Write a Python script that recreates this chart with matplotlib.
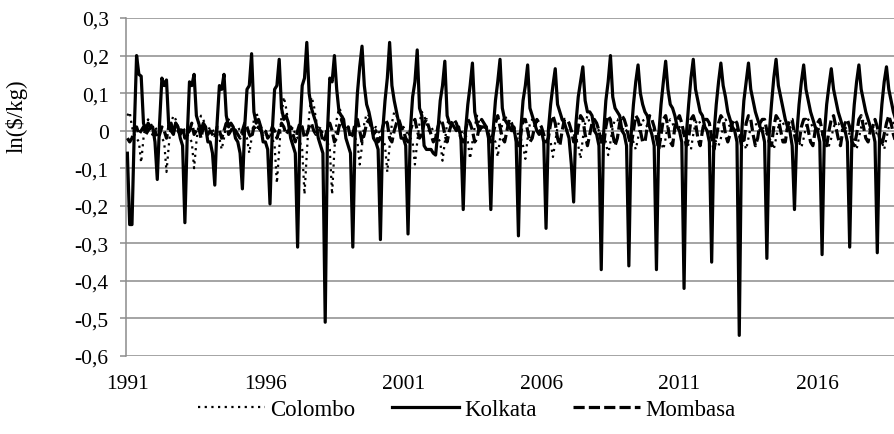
import matplotlib.pyplot as plt
from matplotlib.ticker import FuncFormatter
import numpy as np

# -------------------------------------------------------------
# Monthly data, Jan 1991 - Dec 2018, one row per year
# -------------------------------------------------------------
years = list(range(1991, 2019))
year_labels = ["1991", "1996", "2001", "2006", "2011", "2016"]
series_names = ["Colombo", "Kolkata", "Mombasa"]

colombo = [
    0.04, 0.05, 0.01, -0.01, -0.02, -0.03, -0.085, -0.02, 0.02, 0.03, 0.02, 0.01,   # 1991
    0.01, 0.00, -0.01, -0.02, -0.03, -0.11, -0.04, 0.02, 0.04, 0.03, 0.01, 0.00,    # 1992
    0.01, 0.00, -0.01, -0.02, -0.03, -0.10, -0.03, 0.02, 0.04, 0.03, 0.01, 0.00,    # 1993
    0.01, 0.00, 0.00, -0.01, -0.02, -0.05, -0.02, 0.02, 0.03, 0.02, 0.01, 0.00,     # 1994
    0.01, 0.00, -0.01, -0.01, -0.02, -0.06, -0.02, 0.03, 0.05, 0.03, 0.01, 0.00,    # 1995
    0.00, -0.01, -0.01, -0.02, -0.04, -0.14, -0.05, 0.04, 0.09, 0.06, 0.02, 0.00,   # 1996
    0.01, -0.01, -0.02, -0.03, -0.05, -0.17, -0.06, 0.04, 0.09, 0.07, 0.03, 0.00,   # 1997
    0.01, -0.01, -0.02, -0.03, -0.05, -0.17, -0.05, 0.03, 0.06, 0.05, 0.02, 0.00,   # 1998
    0.01, 0.00, -0.01, -0.02, -0.03, -0.09, -0.04, 0.02, 0.045, 0.04, 0.02, 0.00,   # 1999
    0.01, 0.00, -0.01, -0.02, -0.04, -0.11, -0.04, 0.02, 0.05, 0.04, 0.02, 0.00,    # 2000
    0.01, 0.00, -0.01, -0.02, -0.03, -0.09, -0.03, 0.02, 0.05, 0.04, 0.02, 0.00,    # 2001
    0.01, 0.00, -0.01, -0.02, -0.03, -0.08, -0.03, 0.02, 0.03, 0.02, 0.01, 0.00,    # 2002
    0.01, 0.00, -0.01, -0.01, -0.03, -0.075, -0.03, 0.01, 0.04, 0.02, 0.01, 0.00,   # 2003
    0.01, 0.00, 0.00, -0.02, -0.03, -0.07, -0.02, 0.02, 0.04, 0.03, 0.01, 0.00,     # 2004
    0.01, 0.00, -0.01, -0.02, -0.04, -0.075, -0.02, 0.02, 0.03, 0.02, 0.01, 0.00,   # 2005
    0.00, -0.01, -0.01, -0.02, -0.03, -0.07, -0.03, 0.01, 0.03, 0.03, 0.01, 0.00,   # 2006
    0.01, 0.00, -0.01, -0.02, -0.04, -0.075, -0.02, 0.02, 0.04, 0.02, 0.01, 0.00,   # 2007
    0.01, 0.00, -0.01, -0.02, -0.03, -0.065, -0.03, 0.01, 0.03, 0.03, 0.01, 0.00,   # 2008
    0.01, 0.00, -0.01, -0.02, -0.03, -0.05, -0.02, 0.01, 0.03, 0.02, 0.01, 0.00,    # 2009
    0.01, 0.00, 0.00, -0.01, -0.03, -0.05, -0.02, 0.02, 0.03, 0.02, 0.00, 0.00,     # 2010
    0.01, 0.00, -0.01, -0.02, -0.04, -0.05, -0.01, 0.02, 0.03, 0.02, 0.01, 0.00,    # 2011
    0.00, -0.01, -0.01, -0.02, -0.03, -0.04, -0.02, 0.01, 0.03, 0.02, 0.01, 0.00,   # 2012
    0.01, 0.00, -0.01, -0.02, -0.03, -0.05, -0.02, 0.01, 0.02, 0.02, 0.01, 0.00,    # 2013
    0.01, 0.00, -0.01, -0.02, -0.03, -0.05, -0.02, 0.01, 0.03, 0.02, 0.01, 0.00,    # 2014
    0.01, 0.00, 0.00, -0.02, -0.03, -0.045, -0.02, 0.01, 0.03, 0.02, 0.01, 0.00,    # 2015
    0.01, 0.00, -0.01, -0.02, -0.03, -0.04, -0.02, 0.01, 0.02, 0.02, 0.01, 0.00,    # 2016
    0.01, 0.00, -0.01, -0.02, -0.03, -0.05, -0.02, 0.01, 0.03, 0.02, 0.01, 0.00,    # 2017
    0.01, 0.00, -0.01, -0.02, -0.03, -0.05, -0.02, 0.01, 0.03, 0.02, 0.01, 0.00,    # 2018
]

kolkata = [
    -0.06, -0.25, -0.25, 0.00, 0.20, 0.15, 0.145, 0.02, 0.00, 0.02, 0.01, 0.01,     # 1991
    -0.03, -0.13, 0.02, 0.14, 0.12, 0.135, 0.01, 0.02, -0.01, 0.02, 0.01, -0.02,    # 1992
    -0.04, -0.245, -0.02, 0.13, 0.12, 0.15, 0.04, 0.02, 0.00, 0.02, 0.01, -0.03,    # 1993
    -0.03, -0.06, -0.145, 0.02, 0.12, 0.11, 0.15, 0.04, 0.01, 0.02, 0.01, -0.02,    # 1994
    -0.03, -0.06, -0.155, 0.01, 0.11, 0.12, 0.205, 0.05, 0.02, 0.03, 0.01, -0.03,   # 1995
    -0.03, -0.05, -0.195, 0.00, 0.11, 0.12, 0.19, 0.06, 0.03, 0.04, 0.02, -0.02,    # 1996
    -0.04, -0.06, -0.31, 0.00, 0.12, 0.14, 0.235, 0.10, 0.06, 0.04, 0.02, -0.02,    # 1997
    -0.04, -0.06, -0.51, 0.00, 0.14, 0.13, 0.20, 0.11, 0.05, 0.04, 0.03, -0.02,     # 1998
    -0.04, -0.06, -0.31, -0.01, 0.10, 0.17, 0.225, 0.12, 0.07, 0.05, 0.02, -0.02,   # 1999
    -0.03, -0.05, -0.29, 0.00, 0.08, 0.14, 0.235, 0.12, 0.08, 0.05, 0.02, -0.02,    # 2000
    -0.02, -0.04, -0.275, 0.00, 0.09, 0.13, 0.215, 0.06, 0.04, -0.04, -0.05, -0.05, # 2001
    -0.05, -0.06, -0.065, 0.00, 0.08, 0.12, 0.185, 0.04, 0.02, 0.02, 0.01, 0.00,    # 2002
    0.01, -0.02, -0.21, 0.00, 0.07, 0.12, 0.18, 0.05, 0.02, 0.00, 0.01, 0.01,       # 2003
    0.01, -0.02, -0.21, 0.00, 0.08, 0.13, 0.19, 0.06, 0.03, 0.02, 0.01, 0.00,       # 2004
    0.01, -0.03, -0.28, 0.00, 0.08, 0.12, 0.175, 0.06, 0.04, 0.02, 0.00, -0.01,     # 2005
    0.00, -0.03, -0.26, 0.00, 0.07, 0.12, 0.165, 0.07, 0.05, 0.03, 0.02, 0.00,      # 2006
    -0.02, -0.09, -0.19, 0.02, 0.09, 0.13, 0.17, 0.08, 0.05, 0.05, 0.04, 0.00,      # 2007
    -0.01, -0.04, -0.37, -0.01, 0.08, 0.13, 0.20, 0.09, 0.06, 0.05, 0.04, 0.00,     # 2008
    -0.01, -0.04, -0.36, -0.01, 0.07, 0.13, 0.175, 0.10, 0.07, 0.05, 0.04, 0.01,    # 2009
    -0.01, -0.04, -0.37, -0.01, 0.07, 0.13, 0.185, 0.11, 0.07, 0.06, 0.04, 0.01,    # 2010
    0.00, -0.03, -0.42, -0.01, 0.07, 0.14, 0.19, 0.11, 0.08, 0.05, 0.04, 0.01,      # 2011
    0.00, -0.03, -0.35, -0.01, 0.07, 0.13, 0.18, 0.12, 0.09, 0.05, 0.03, 0.01,      # 2012
    0.00, -0.03, -0.545, -0.01, 0.08, 0.13, 0.18, 0.11, 0.08, 0.05, 0.03, 0.01,     # 2013
    0.00, -0.03, -0.34, -0.01, 0.07, 0.14, 0.19, 0.12, 0.09, 0.06, 0.03, 0.01,      # 2014
    0.00, -0.04, -0.21, -0.01, 0.07, 0.13, 0.175, 0.11, 0.08, 0.05, 0.03, 0.01,     # 2015
    0.00, -0.03, -0.33, -0.01, 0.07, 0.12, 0.165, 0.11, 0.08, 0.05, 0.03, 0.01,     # 2016
    0.00, -0.03, -0.31, -0.01, 0.07, 0.13, 0.175, 0.11, 0.08, 0.05, 0.03, 0.01,     # 2017
    0.00, -0.03, -0.325, -0.01, 0.07, 0.13, 0.17, 0.11, 0.08, 0.05, 0.03, 0.01,     # 2018
]

mombasa = [
    -0.02, -0.03, -0.02, 0.00, 0.01, -0.01, 0.00, 0.01, -0.01, 0.00, 0.01, -0.01,   # 1991
    0.00, -0.02, -0.01, 0.01, 0.00, -0.02, 0.01, 0.00, -0.01, 0.02, 0.00, -0.01,    # 1992
    0.01, -0.02, -0.01, 0.00, 0.02, -0.01, 0.00, 0.01, -0.02, 0.01, 0.00, -0.01,    # 1993
    0.00, -0.01, -0.02, 0.01, 0.00, -0.02, 0.00, 0.02, -0.01, 0.00, 0.01, 0.00,     # 1994
    -0.01, -0.02, 0.00, 0.02, 0.01, -0.01, -0.02, 0.01, 0.00, 0.01, 0.00, -0.01,    # 1995
    0.00, -0.02, -0.01, 0.01, 0.00, -0.02, 0.00, 0.02, 0.01, -0.01, 0.00, 0.01,     # 1996
    -0.01, -0.03, 0.00, 0.02, 0.01, -0.02, -0.01, 0.01, 0.02, 0.00, -0.01, 0.00,    # 1997
    0.00, -0.03, -0.02, 0.01, 0.02, 0.00, -0.03, -0.02, 0.01, 0.03, 0.01, 0.00,     # 1998
    0.01, -0.02, -0.01, 0.02, 0.03, 0.00, -0.03, -0.01, 0.02, 0.03, 0.01, -0.01,    # 1999
    0.00, -0.03, -0.02, 0.01, 0.03, 0.02, -0.02, -0.03, 0.00, 0.02, 0.03, 0.01,     # 2000
    0.00, -0.02, -0.03, 0.00, 0.02, 0.03, 0.00, -0.02, -0.01, 0.02, 0.03, 0.01,     # 2001
    -0.01, -0.03, -0.02, 0.01, 0.03, 0.02, -0.01, -0.03, 0.00, 0.02, 0.03, 0.02,    # 2002
    0.00, -0.02, -0.03, 0.00, 0.03, 0.02, 0.00, -0.03, -0.02, 0.01, 0.03, 0.02,     # 2003
    0.01, -0.01, -0.03, -0.01, 0.02, 0.04, 0.01, -0.02, -0.03, 0.00, 0.03, 0.02,    # 2004
    0.00, -0.02, -0.04, -0.01, 0.03, 0.03, 0.00, -0.03, -0.02, 0.01, 0.03, 0.02,    # 2005
    0.01, -0.01, -0.03, -0.02, 0.02, 0.04, 0.02, -0.02, -0.04, 0.00, 0.03, 0.03,    # 2006
    0.02, 0.00, -0.03, -0.03, 0.01, 0.04, 0.03, -0.01, -0.04, -0.01, 0.02, 0.03,    # 2007
    0.02, 0.00, -0.03, -0.04, 0.01, 0.04, 0.03, -0.01, -0.04, -0.02, 0.02, 0.04,    # 2008
    0.03, 0.01, -0.02, -0.04, 0.00, 0.04, 0.03, 0.00, -0.03, -0.03, 0.01, 0.04,     # 2009
    0.03, 0.01, -0.02, -0.05, -0.01, 0.03, 0.04, 0.01, -0.03, -0.04, 0.01, 0.03,    # 2010
    0.04, 0.02, -0.01, -0.04, -0.02, 0.03, 0.04, 0.02, -0.02, -0.04, 0.00, 0.03,    # 2011
    0.03, 0.02, -0.02, -0.05, -0.02, 0.02, 0.04, 0.03, -0.01, -0.03, -0.01, 0.02,   # 2012
    0.03, 0.02, -0.01, -0.04, -0.03, 0.02, 0.04, 0.03, -0.01, -0.04, -0.02, 0.02,   # 2013
    0.03, 0.03, 0.00, -0.03, -0.04, 0.01, 0.04, 0.03, 0.00, -0.03, -0.03, 0.01,     # 2014
    0.03, 0.03, -0.01, -0.04, -0.03, 0.01, 0.03, 0.03, 0.00, -0.03, -0.04, 0.00,    # 2015
    0.02, 0.03, 0.00, -0.03, -0.04, 0.00, 0.03, 0.04, 0.01, -0.02, -0.04, 0.00,     # 2016
    0.02, 0.03, 0.01, -0.03, -0.04, -0.01, 0.03, 0.04, 0.01, -0.02, -0.03, 0.00,    # 2017
    0.01, 0.03, 0.01, -0.02, -0.04, -0.01, 0.02, 0.04, 0.02, -0.01, -0.03, 0.00,    # 2018
]

# ---------------------------------------------
# Plot settings
# ---------------------------------------------
plt.rcParams['font.family'] = ['Liberation Serif', 'DejaVu Serif']
GRID = '#8c8c8c'
FS_TICK = 15.5
FS_LEG = 16.5

months = np.arange(len(kolkata))

fig = plt.figure(figsize=(8.95, 4.35), dpi=100)
ax = fig.add_axes([126 / 895, 1 - 357 / 435, 1 - 126 / 895, (357 - 19) / 435])

ax.plot(months, colombo, color='black', lw=1.6, linestyle=(0, (1, 2)),
        label=series_names[0], zorder=3)
ax.plot(months, kolkata, color='black', lw=2.3, linestyle='-',
        label=series_names[1], zorder=4)
ax.plot(months, mombasa, color='black', lw=2.3, linestyle=(0, (3.5, 1.3)),
        label=series_names[2], zorder=5)

# axes, grid and ticks
ax.set_ylim(-0.6, 0.3)
ax.set_yticks(np.arange(-0.6, 0.31, 0.1))
ax.yaxis.set_major_formatter(FuncFormatter(
    lambda v, p: "0" if abs(v) < 1e-9 else ("%.1f" % v).replace('.', ',')))
ax.set_xlim(-0.6, 333.7)
ax.set_xticks([(int(y) - years[0]) * 12 for y in year_labels])
ax.set_xticklabels(year_labels)

ax.grid(axis='y', color=GRID, lw=1.1, zorder=0)
ax.set_axisbelow(True)
for s in ['top', 'right', 'bottom']:
    ax.spines[s].set_visible(False)
ax.spines['left'].set_color(GRID)
ax.spines['left'].set_linewidth(1.1)

ax.tick_params(axis='y', length=4.5, width=1.1, color=GRID, pad=8, labelsize=FS_TICK)
ax.tick_params(axis='x', length=0, pad=13, labelsize=FS_TICK)

# y label sits above the axis centre in the original
fig.text(17 / 895, 1 - 116 / 435, "ln($/kg)", rotation=90, fontsize=FS_LEG,
         ha='center', va='center')

fig.legend(loc='center', bbox_to_anchor=(467 / 895, 1 - 410 / 435), ncol=3,
           frameon=False, fontsize=FS_LEG, handlelength=2.9, handletextpad=0.25,
           columnspacing=1.6)

fig.savefig("out.png", dpi=100)
